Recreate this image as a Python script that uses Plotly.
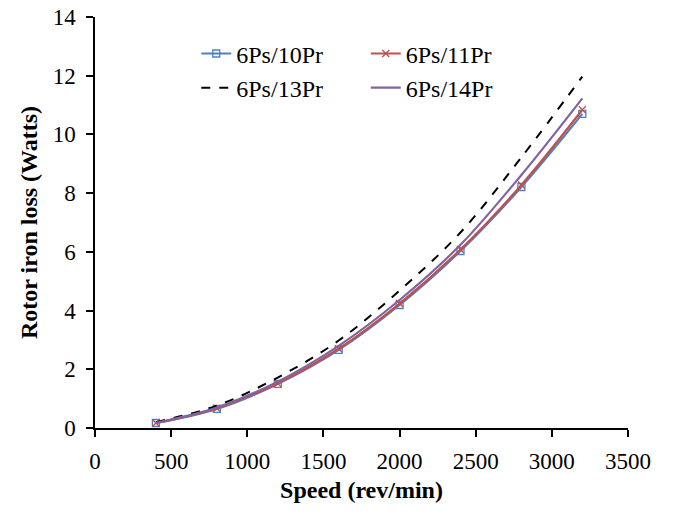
import plotly.graph_objects as go

speed = [400, 800, 1200, 1600, 2000, 2400, 2800, 3200]
loss_10pr = [0.17, 0.65, 1.50, 2.66, 4.19, 6.03, 8.21, 10.70]
loss_11pr = [0.17, 0.67, 1.52, 2.70, 4.24, 6.08, 8.28, 10.84]
loss_13pr = [0.20, 0.76, 1.72, 2.98, 4.68, 6.66, 9.22, 11.97]
loss_14pr = [0.18, 0.70, 1.58, 2.80, 4.36, 6.24, 8.62, 11.23]

font_family = "Liberation Serif, Times New Roman, serif"

fig = go.Figure()
fig.add_trace(go.Scatter(x=speed, y=loss_10pr, name="6Ps/10Pr", mode="lines+markers", legend="legend",
                         line=dict(color="#4F81BD", width=2.2, shape="spline"),
                         marker=dict(symbol="square-open", size=7, color="#4F81BD", line=dict(width=1.3))))
fig.add_trace(go.Scatter(x=speed, y=loss_11pr, name="6Ps/11Pr", mode="lines+markers", legend="legend2",
                         line=dict(color="#C0504D", width=2.2, shape="spline"),
                         marker=dict(symbol="x-thin-open", size=7, color="#C0504D", line=dict(width=1.3, color="#C0504D"))))
fig.add_trace(go.Scatter(x=speed, y=loss_13pr, name="6Ps/13Pr", mode="lines", legend="legend",
                         line=dict(color="black", width=2, dash="dash", shape="spline")))
fig.add_trace(go.Scatter(x=speed, y=loss_14pr, name="6Ps/14Pr", mode="lines", legend="legend2",
                         line=dict(color="#8064A2", width=2.2, shape="spline")))

axis_common = dict(showgrid=False, zeroline=False, showline=True, linecolor="black", linewidth=1.5,
                   ticks="outside", ticklen=7, tickwidth=1.5, tickcolor="black", automargin=False,
                   ticklabeloverflow="allow",
                   tickfont=dict(family=font_family, size=23, color="black"), mirror=False)

fig.update_xaxes(range=[0, 3500], dtick=500, ticklabelstandoff=5, **axis_common,
                 title=dict(text="<b>Speed (rev/min)</b>", font=dict(family=font_family, size=24, color="black"), standoff=8))
fig.update_yaxes(range=[0, 14], dtick=2, ticklabelstandoff=6, **axis_common,
                 title=dict(text="<b>Rotor iron loss (Watts)</b>", font=dict(family=font_family, size=24, color="black"), standoff=8))

legend_common = dict(orientation="v", yanchor="top", xanchor="left",
                     font=dict(family=font_family, size=24, color="black"),
                     bgcolor="rgba(0,0,0,0)", tracegroupgap=0)

fig.update_layout(
    width=673, height=514,
    margin=dict(l=95, r=45, t=17, b=86),
    plot_bgcolor="white", paper_bgcolor="white",
    legend=dict(x=0.19, y=0.965, **legend_common),
    legend2=dict(x=0.508, y=0.965, **legend_common),
)

fig.write_html("out.html", config={"displayModeBar": False},
               post_script="document.body.style.margin='0';document.body.style.overflow='hidden';")
